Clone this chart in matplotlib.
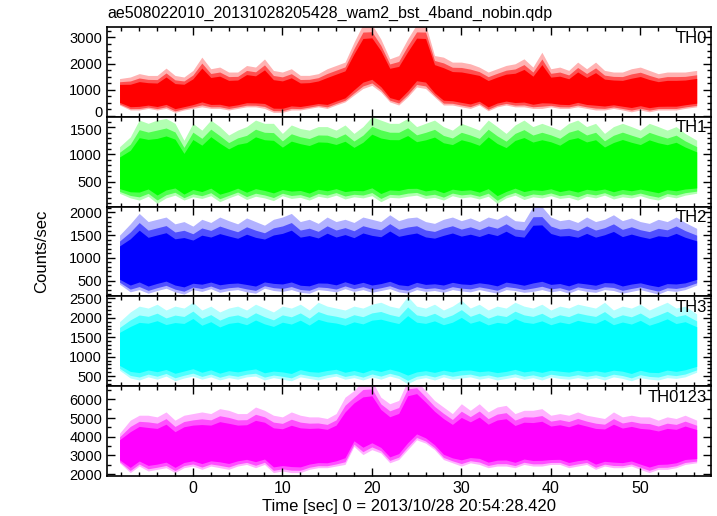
import numpy as np
import matplotlib
matplotlib.use("Agg")
import matplotlib.pyplot as plt
from matplotlib.ticker import MultipleLocator
from matplotlib.transforms import ScaledTranslation

plt.rcParams['font.family'] = ['Liberation Sans', 'DejaVu Sans']

title = "ae508022010_20131028205428_wam2_bst_4band_nobin.qdp"
xlabel = "Time [sec] 0 = 2013/10/28 20:54:28.420"
ylabel = "Counts/sec"

# time grid (sec)
t = [-8.2] + list(range(-7, 56)) + [56.3]

names = ["TH0", "TH1", "TH2", "TH3", "TH0123"]
colors = ["#ff0000", "#00ff00", "#0000ff", "#00ffff", "#ff00ff"]

th0_hi = [1430, 1490, 1620, 1550, 1550, 1830, 1550, 1490, 1740, 2250, 1806, 1870, 1680,
          1680, 1930, 1870, 2180, 1740, 1680, 1806, 1553, 1553, 1617, 1806, 1932, 2059,
          2816, 3500, 3500, 2943, 2185, 2311, 2943, 3500, 3500, 2311, 2248, 2059, 2059,
          1995, 1869, 1680, 1806, 1932, 1995, 2185, 1869, 2437, 1806, 1869, 1743, 2059,
          1806, 2059, 1743, 1680, 1680, 1806, 1869, 1743, 1617, 1680, 1680, 1680, 1743]
th0_lo = [420, 230, 230, 290, 230, 290, 140, 230, 290, 350, 290, 290, 230,
          290, 350, 350, 290, 140, 140, 230, 230, 290, 350, 290, 420, 540,
          800, 1050, 1170, 920, 540, 420, 730, 1110, 1050, 730, 420, 420, 350,
          290, 420, 200, 350, 420, 350, 350, 290, 290, 350, 290, 290, 350,
          290, 230, 230, 290, 230, 160, 230, 160, 230, 230, 230, 290, 350]

th1_hi = [1140, 1320, 1630, 1570, 1630, 1660, 1570, 1260, 1570, 1445, 1630, 1510, 1355,
          1445, 1510, 1630, 1570, 1570, 1385, 1540, 1475, 1445, 1510, 1510, 1445, 1540,
          1385, 1510, 1690, 1630, 1570, 1570, 1660, 1510, 1570, 1630, 1510, 1445, 1570,
          1510, 1445, 1630, 1510, 1385, 1540, 1630, 1510, 1570, 1510, 1445, 1570, 1630,
          1510, 1570, 1385, 1510, 1570, 1510, 1445, 1570, 1510, 1445, 1510, 1385, 1260]
th1_lo = [285, 200, 160, 230, 100, 200, 250, 160, 220, 190, 240, 130, 200,
          260, 170, 230, 200, 150, 240, 190, 210, 160, 230, 200, 250, 180,
          220, 200, 240, 130, 210, 200, 230, 250, 190, 210, 160, 240, 200,
          220, 180, 230, 100, 200, 250, 170, 220, 200, 240, 190, 210, 160,
          230, 200, 250, 180, 220, 200, 240, 190, 160, 230, 200, 250, 285]

th2_hi = [1500, 1750, 1980, 1800, 1850, 1900, 1750, 1800, 1700, 1850, 1780, 1900, 1820,
          1750, 1880, 1800, 1720, 1850, 1900, 1980, 1800, 1850, 1760, 1900, 1800, 1850,
          1780, 1900, 1850, 1800, 1950, 1820, 1880, 1900, 1800, 1760, 1850, 1900, 1820,
          1880, 1800, 1900, 1850, 1950, 1820, 1800, 2130, 2130, 1900, 1820, 1850, 1780,
          1900, 1800, 1850, 1950, 1820, 1880, 1800, 1760, 1850, 1800, 1900, 1780, 1650]
th2_lo = [420, 250, 300, 220, 280, 330, 250, 200, 300, 260, 320, 240, 280,
          300, 250, 220, 330, 280, 260, 300, 240, 220, 300, 280, 250, 320,
          260, 300, 240, 280, 320, 250, 220, 300, 260, 280, 240, 300, 270,
          250, 300, 260, 220, 300, 280, 240, 260, 300, 250, 280, 220, 300,
          260, 240, 300, 280, 220, 260, 300, 250, 200, 280, 260, 300, 400]

th3_hi = [1900, 2150, 2300, 2250, 2350, 2200, 2300, 2250, 2400, 2200, 2300, 2150, 2250,
          2300, 2200, 2350, 2250, 2150, 2300, 2250, 2350, 2200, 2400, 2300, 2250, 2200,
          2300, 2250, 2350, 2400, 2300, 2250, 2550, 2300, 2250, 2350, 2200, 2300, 2450,
          2250, 2350, 2200, 2300, 2250, 2400, 2300, 2250, 2350, 2200, 2300, 2250, 2350,
          2300, 2250, 2400, 2200, 2300, 2250, 2350, 2200, 2300, 2400, 2250, 2300, 2100]
th3_lo = [650, 450, 400, 480, 420, 500, 380, 450, 500, 420, 480, 400, 460,
          420, 480, 500, 400, 460, 420, 380, 480, 440, 400, 460, 500, 420,
          460, 400, 480, 420, 500, 440, 300, 420, 460, 400, 480, 420, 450,
          480, 420, 460, 400, 440, 480, 420, 460, 400, 480, 440, 420, 460,
          420, 460, 400, 480, 440, 380, 460, 420, 400, 460, 440, 480, 600]

th0123_hi = [4185, 4886, 5149, 5149, 5061, 5325, 4886, 5149, 5237, 5325, 5237, 5500, 5412,
             5237, 5237, 5588, 5412, 5149, 5061, 5325, 5149, 5061, 5061, 4974, 5237, 6114,
             6465, 7000, 7000, 6114, 5763, 5939, 7000, 7000, 6465, 5939, 5588, 5237, 5763,
             5412, 5763, 5325, 5588, 5676, 5237, 5412, 5412, 5500, 5149, 5237, 5149, 5325,
             5149, 5061, 4974, 5325, 5061, 5149, 5061, 5061, 4886, 5061, 4974, 5149, 4886]
th0123_lo = [2606, 2080, 2431, 2167, 2255, 2343, 2080, 2343, 2431, 2255, 2431, 2343, 2255,
             2431, 2518, 2343, 2518, 2080, 2167, 2080, 2080, 2255, 2343, 2343, 2431, 2518,
             3483, 3044, 3308, 3132, 2606, 2781, 3308, 3834, 3659, 3308, 2781, 2606, 2431,
             2606, 2518, 2343, 2431, 2431, 2343, 2518, 2431, 2431, 2518, 2518, 2343, 2431,
             2518, 2255, 2431, 2343, 2343, 2431, 2255, 2080, 2255, 2255, 2343, 2518, 2606]

his = [th0_hi, th1_hi, th2_hi, th3_hi, th0123_hi]
los = [th0_lo, th1_lo, th2_lo, th3_lo, th0123_lo]

ylims = [(-30, 3400), (40, 1690), (150, 2130), (240, 2550), (1900, 6700)]
yticks = [[0, 1000, 2000, 3000], [500, 1000, 1500], [500, 1000, 1500, 2000],
          [500, 1000, 1500, 2000, 2500], [2000, 3000, 4000, 5000, 6000]]
yminor = [250, 100, 100, 100, 500]
xlim = (-9.6, 57.9)
xticks = [0, 10, 20, 30, 40, 50]

W, H = 717, 516
fig = plt.figure(figsize=(W / 100, H / 100), dpi=100)
left, right = 107, 711
top, bottom = 27, 476
ph = (bottom - top) / 5

tt = np.array(t, dtype=float)
axes = []
for i in range(5):
    y0 = top + i * ph
    ax = fig.add_axes([left / W, 1 - (y0 + ph) / H, (right - left) / W, ph / H])
    axes.append(ax)
    hi = np.array(his[i], dtype=float)
    lo = np.array(los[i], dtype=float)
    r = hi - lo
    ax.fill_between(tt, lo, hi, color=colors[i], alpha=0.3, linewidth=0)
    ax.fill_between(tt, lo + 0.04 * r, hi - 0.12 * r, color=colors[i], alpha=0.55, linewidth=0)
    ax.fill_between(tt, lo + 0.10 * r, hi - 0.22 * r, color=colors[i], alpha=1.0, linewidth=0)
    ax.set_xlim(*xlim)
    ax.set_ylim(*ylims[i])
    ax.set_yticks(yticks[i])
    ax.yaxis.set_minor_locator(MultipleLocator(yminor[i]))
    ax.set_xticks(xticks)
    ax.xaxis.set_minor_locator(MultipleLocator(2))
    ax.tick_params(which='both', direction='in', top=True, right=True, labelsize=10.5, width=1.0)
    ax.tick_params(which='major', length=6)
    ax.tick_params(which='minor', length=3)
    ax.tick_params(axis='x', labelsize=11.5)
    for s in ax.spines.values():
        s.set_linewidth(1.2)
    if i < 4:
        ax.tick_params(labelbottom=False)
    ax.text(0.993, 0.96, names[i], transform=ax.transAxes, ha='right', va='top', fontsize=12)

# nudge the touching "0" (TH0) and "1500" (TH1) labels apart slightly
fig.canvas.draw()
lab0 = axes[0].get_yticklabels()[0]
lab0.set_transform(lab0.get_transform() + ScaledTranslation(0, 3 / 72, fig.dpi_scale_trans))
lab1 = axes[1].get_yticklabels()[-1]
lab1.set_transform(lab1.get_transform() + ScaledTranslation(0, -2 / 72, fig.dpi_scale_trans))

axes[-1].set_xlabel(xlabel, fontsize=12, labelpad=2)
fig.text(42 / W, 1 - 251 / H, ylabel, rotation=90, ha='center', va='center', fontsize=12)
fig.text(left / W, 1 - 13 / H, title, ha='left', va='center', fontsize=11.5)

fig.savefig("out.png", dpi=100)
